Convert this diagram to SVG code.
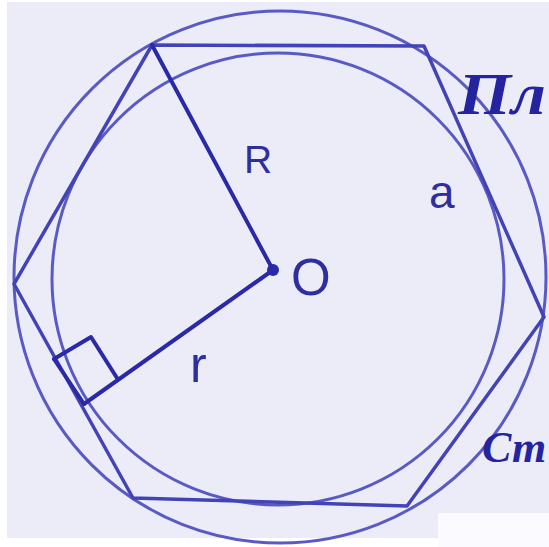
<svg xmlns="http://www.w3.org/2000/svg" width="549" height="547" viewBox="0 0 549 547">
  <style>
    .circ { fill: none; stroke: #5a5ac4; stroke-width: 3; }
    .hex { fill: none; stroke: #4343b8; stroke-width: 3.5; stroke-linejoin: round; }
    .seg { fill: none; stroke: #2a2aa8; stroke-width: 4; stroke-linecap: round; stroke-linejoin: round; }
    .lbl { font-family: "Liberation Sans", Arial, sans-serif; fill: #2e2e9e; }
    .cap { font-family: "Liberation Serif", "Times New Roman", serif; font-style: italic; font-weight: bold; fill: #2424a0; }
  </style>
  <rect x="0" y="0" width="549" height="547" fill="#ffffff"/>
  <rect x="7" y="2" width="542" height="536" fill="#ececf8"/>
  <rect x="438" y="513" width="111" height="34" fill="#fbfbff"/>

  <g id="outer-circle">
    <circle class="circ" cx="280" cy="277" r="266"/>
  </g>
  <g id="inner-circle">
    <circle class="circ" cx="278" cy="279" r="226"/>
  </g>
  <g id="hexagon">
    <polygon class="hex" points="152,45 424,46 544,317 407,506 133,498 14,284"/>
  </g>

  <g id="connectors">
    <polyline class="seg" points="152,45 273,270 84,404"/>
    <polyline class="seg" points="54,359 91,337 117,378"/>
    <line class="seg" x1="54" y1="359" x2="84" y2="404" stroke-width="3"/>
  </g>

  <g id="center">
    <circle cx="273" cy="270" r="6" fill="#2a2aa8"/>
  </g>

  <g id="labels">
    <text class="lbl" x="244" y="173" font-size="39">R</text>
    <text class="lbl" x="429" y="208" font-size="46">a</text>
    <text class="lbl" x="291" y="295" font-size="51">O</text>
    <text class="lbl" x="190" y="382" font-size="50">r</text>
  </g>

  <g id="captions">
    <text class="cap" x="458" y="114" font-size="60" textLength="88" lengthAdjust="spacingAndGlyphs">Пл</text>
    <text class="cap" x="482" y="462" font-size="44">Ст</text>
  </g>
</svg>
